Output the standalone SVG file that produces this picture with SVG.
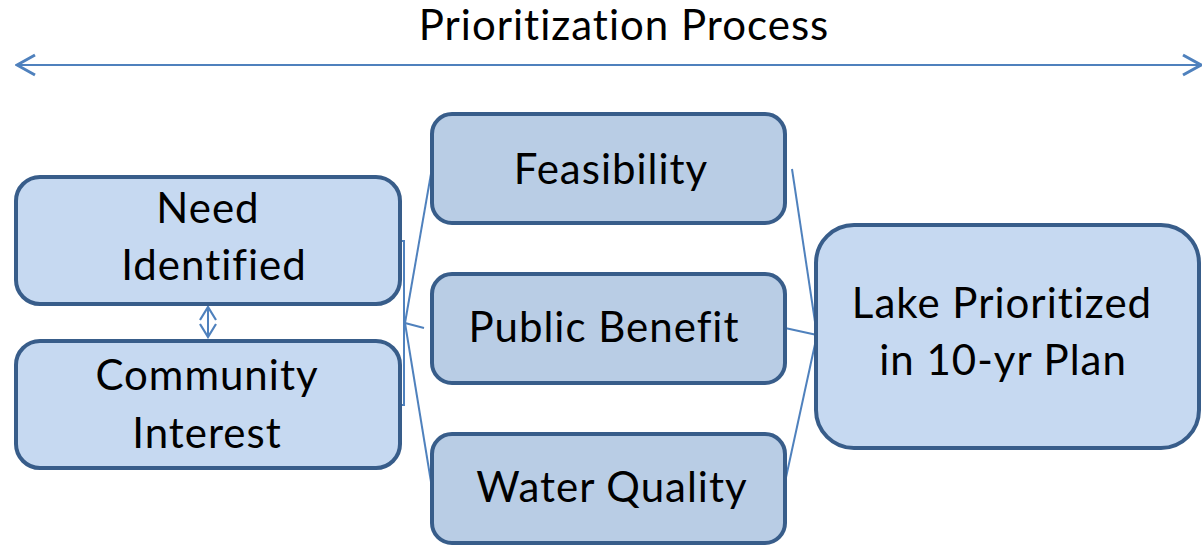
<svg xmlns="http://www.w3.org/2000/svg" width="1202" height="546" viewBox="0 0 1202 546">
<style>
.box{stroke:#385D8A;stroke-width:4}
.light{fill:#C6D9F1}
.mid{fill:#B9CDE5}
.t{font-family:Lato,"Open Sans","Liberation Sans",sans-serif;font-size:42px;letter-spacing:1px;font-variant-ligatures:none;fill:#000;text-anchor:middle}
.c{stroke:#4F81BD;stroke-width:2;fill:none}
</style>
<defs>
<marker id="open" viewBox="0 0 16 20" refX="14" refY="10" markerWidth="16" markerHeight="20" markerUnits="userSpaceOnUse" orient="auto-start-reverse">
<path d="M1,2 L14,10 L1,18" fill="none" stroke="#4F81BD" stroke-width="2.2"/>
</marker>
<marker id="big" viewBox="0 0 24 24" refX="22" refY="12" markerWidth="24" markerHeight="24" markerUnits="userSpaceOnUse" orient="auto-start-reverse">
<path d="M4,2 L22,12 L4,22" fill="none" stroke="#4F81BD" stroke-width="3"/>
</marker>
</defs>
<g id="title">
<text class="t" x="624" y="40">Prioritization Process</text>
</g>
<g id="connectors">
<line class="c" x1="17" y1="65" x2="1201" y2="65" stroke-width="3" marker-start="url(#big)" marker-end="url(#big)"/>
<line class="c" x1="208" y1="307" x2="208" y2="337" marker-start="url(#open)" marker-end="url(#open)"/>
<path class="c" d="M400,241 L404,241 L404,405 L400,405"/>
<line class="c" x1="405" y1="323" x2="432" y2="168"/>
<line class="c" x1="405" y1="323" x2="432" y2="488"/>
<line class="c" x1="405" y1="323" x2="424" y2="328"/>
<line class="c" x1="792" y1="169" x2="817" y2="335"/>
<line class="c" x1="785" y1="328" x2="817" y2="335"/>
<line class="c" x1="785" y1="482" x2="817" y2="335"/>
</g>
<g id="need">
<rect class="box light" x="16" y="177" width="384" height="127" rx="24"/>
<text class="t" x="208" y="223">Need</text>
<text class="t" x="214" y="280">Identified</text>
</g>
<g id="community">
<rect class="box light" x="16" y="341" width="384" height="127" rx="24"/>
<text class="t" x="207" y="390">Community</text>
<text class="t" x="207" y="448">Interest</text>
</g>
<g id="feasibility">
<rect class="box mid" x="432" y="114" width="353" height="109" rx="20"/>
<text class="t" x="611" y="184">Feasibility</text>
</g>
<g id="public">
<rect class="box mid" x="432" y="274" width="353" height="109" rx="20"/>
<text class="t" x="604" y="342">Public Benefit</text>
</g>
<g id="water">
<rect class="box mid" x="432" y="434" width="353" height="109" rx="20"/>
<text class="t" x="612" y="502">Water Quality</text>
</g>
<g id="lake">
<rect class="box light" x="816" y="225" width="383" height="223" rx="38"/>
<text class="t" x="1002" y="318">Lake Prioritized</text>
<text class="t" x="1003" y="375">in 10-yr Plan</text>
</g>
</svg>
